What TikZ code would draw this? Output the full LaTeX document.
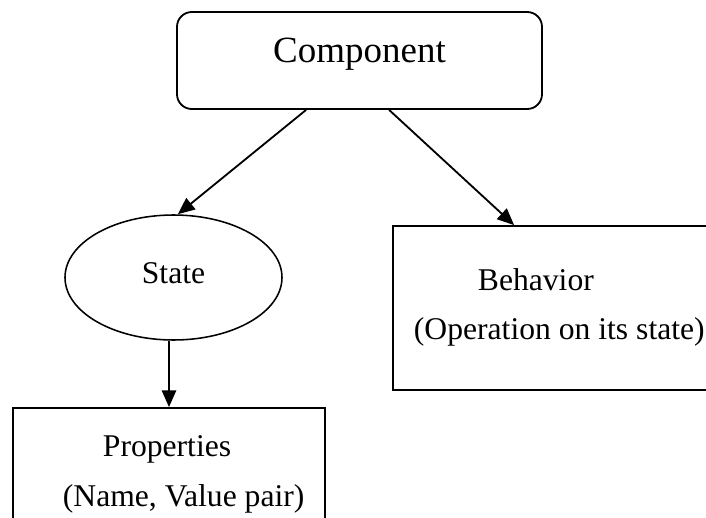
\documentclass[tikz,border=0pt]{standalone}
\usepackage{fontspec}
\setmainfont{Liberation Serif}
\usepackage{tikz}
\usetikzlibrary{arrows.meta,shapes.geometric}

\begin{document}
\begin{tikzpicture}[>={Triangle[length=0.42cm,width=0.36cm]},line width=1.3pt,
  roundbox/.style={draw,rounded corners=0.37cm,inner sep=0pt,font=\fontsize{26.3}{30}\selectfont},
  plainbox/.style={draw,inner sep=0pt},
  stateshape/.style={draw,ellipse,inner sep=0pt,line width=1.1pt,font=\fontsize{22.5}{26}\selectfont},
  boxtext/.style={anchor=base west,inner sep=0pt,font=\fontsize{22.5}{26}\selectfont}]
\useasboundingbox (0,0) rectangle (17.65,12.925);
\clip (0,0) rectangle (17.65,12.925);
\node[roundbox,minimum width=9.125cm,minimum height=2.425cm,text height=0.7em,text depth=0.46em] (comp) at (8.9875,11.4125) {Component};
\node[stateshape,minimum width=5.425cm,minimum height=3.125cm,text height=0.9em,text depth=0pt] (state) at (4.3375,5.9875) {State};
\node[plainbox,minimum width=8.175cm,minimum height=4.1cm] (behav) at (13.9125,5.225) {};
\node[plainbox,minimum width=7.8cm,minimum height=3.05cm] (prop) at (4.225,1.2) {};
\node[boxtext] (behavname) at (11.925,5.6575) {Behavior};
\node[boxtext] (behavnote) at (10.325,4.45) {(Operation on its state)};
\node[boxtext] (propname) at (2.55,1.5075) {Properties};
\node[boxtext] (propnote) at (1.55,0.275) {(Name, Value pair)};
\draw[->] ([xshift=3.25cm]comp.south west) -- ([xshift=0.11cm]state.north);
\draw[->] ([xshift=5.325cm]comp.south west) -- ([xshift=3.05cm]behav.north west);
\draw[->] (prop.north |- state.south) -- (prop.north);
\end{tikzpicture}
\end{document}
